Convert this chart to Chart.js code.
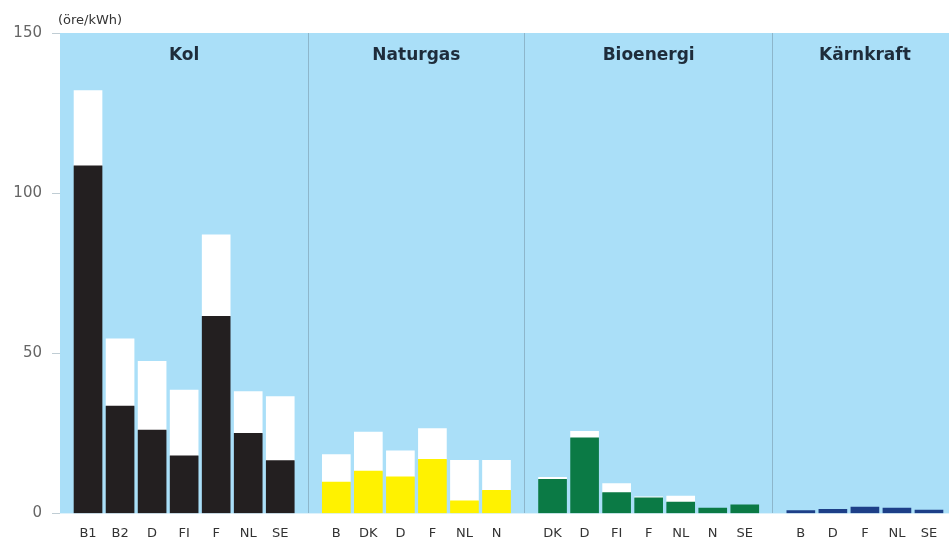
<!DOCTYPE html>
<html><head><meta charset="utf-8">
<script src="https://cdn.jsdelivr.net/npm/chart.js@4"></script>
<style>html,body{margin:0;padding:0;background:#fff}#wrap{width:949px;height:542px;position:relative}</style>
</head><body><div id="wrap"><canvas id="c"></canvas></div>
<script>
// ---- data ----
const groupNames = ['Kol', 'Naturgas', 'Bioenergi', 'Kärnkraft'];
const kolLabels = ['B1', 'B2', 'D', 'FI', 'F', 'NL', 'SE'];
const kolBase   = [108.5, 33.5, 26, 18, 61.5, 25, 16.5];
const kolTotal  = [132, 54.5, 47.5, 38.5, 87, 38, 36.5];
const gasLabels = ['B', 'DK', 'D', 'F', 'NL', 'N'];
const gasBase   = [9.8, 13.2, 11.4, 16.9, 3.9, 7.2];
const gasTotal  = [18.4, 25.4, 19.5, 26.5, 16.6, 16.6];
const bioLabels = ['DK', 'D', 'FI', 'F', 'NL', 'N', 'SE'];
const bioBase   = [10.6, 23.6, 6.5, 4.9, 3.5, 1.7, 2.7];
const bioTotal  = [11.3, 25.6, 9.3, 5.2, 5.4, 1.7, 2.7];
const karnLabels = ['B', 'D', 'F', 'NL', 'SE'];
const karnBase   = [0.9, 1.3, 2.0, 1.7, 1.0];
const karnTotal  = [0.9, 1.3, 2.0, 1.7, 1.0];
const yTicks = [0, 50, 100, 150];
const unitLabel = '(öre/kWh)';

// ---- styles ----
const groupColors = ['#231f20', '#fff200', '#0b7a45', '#1d3f88'];
const groups = [
  {labels: kolLabels, base: kolBase, total: kolTotal},
  {labels: gasLabels, base: gasBase, total: gasTotal},
  {labels: bioLabels, base: bioBase, total: bioTotal},
  {labels: karnLabels, base: karnBase, total: karnTotal}
];

// build category table (blank spacer categories give the gaps)
const labels = [], baseData = [], extraData = [], baseColors = [], dividerIdx = [], groupSpans = [];
function pad(n) { for (let i = 0; i < n; i++) { labels.push(''); baseData.push(null); extraData.push(null); baseColors.push('rgba(0,0,0,0)'); } }
pad(3);
groups.forEach((g, gi) => {
  if (gi > 0) { pad(3); dividerIdx.push(labels.length); pad(3); }
  const first = labels.length;
  g.labels.forEach((lab, i) => {
    if (i > 0) pad(3);
    labels.push(lab);
    baseData.push(g.base[i]);
    const ex = +(g.total[i] - g.base[i]).toFixed(2);
    extraData.push(ex > 0 ? ex : null);
    baseColors.push(groupColors[gi]);
  });
  groupSpans.push([first, labels.length - 1]);
});
pad(2);

Chart.defaults.font.family = "'DejaVu Sans', sans-serif";

const bgPlugin = {
  id: 'bg',
  beforeDraw(chart) {
    const {ctx, chartArea: a} = chart;
    ctx.save();
    ctx.fillStyle = '#aadff8';
    ctx.fillRect(a.left, a.top, a.right - a.left, a.bottom - a.top);
    ctx.restore();
  }
};
const textPlugin = {
  id: 'texts',
  afterDraw(chart) {
    const {ctx, chartArea: a} = chart;
    const xs = chart.scales.x;
    ctx.save();
    ctx.fillStyle = '#333';
    ctx.font = "13px 'DejaVu Sans'";
    ctx.textAlign = 'left';
    ctx.textBaseline = 'middle';
    ctx.fillText(unitLabel, a.left - 2, a.top - 12);
    ctx.fillStyle = '#1e2c3b';
    ctx.font = "bold 17px 'DejaVu Sans'";
    ctx.textAlign = 'center';
    groupSpans.forEach((s, i) => {
      const cx = (xs.getPixelForValue(s[0]) + xs.getPixelForValue(s[1])) / 2;
      ctx.fillText(groupNames[i], cx, a.top + 23);
    });
    ctx.restore();
  }
};

new Chart(document.getElementById('c'), {
  type: 'bar',
  data: {
    labels: labels,
    datasets: [
      {data: baseData, backgroundColor: baseColors, stack: 's', barThickness: 28, borderWidth: 0},
      {data: extraData, backgroundColor: '#ffffff', stack: 's', barThickness: 28, borderWidth: 0}
    ]
  },
  options: {
    responsive: true,
    maintainAspectRatio: false,
    animation: false,
    layout: {padding: {top: 33, right: 0, bottom: 1, left: 0}},
    plugins: {legend: {display: false}, tooltip: {enabled: false}},
    scales: {
      x: {
        stacked: true,
        offset: true,
        grid: {
          offset: true,
          drawTicks: true,
          tickLength: 12,
          tickColor: 'rgba(0,0,0,0)',
          lineWidth: 1,
          color: (c) => dividerIdx.includes(c.index) ? '#8db6cb' : 'rgba(0,0,0,0)'
        },
        border: {display: false},
        ticks: {autoSkip: false, maxRotation: 0, minRotation: 0, padding: 0, color: '#333', font: {size: 13}}
      },
      y: {
        stacked: true,
        min: 0,
        max: 150,
        afterBuildTicks: (s) => { s.ticks = yTicks.map(v => ({value: v})); },
        afterFit: (s) => { s.width = 60; },
        grid: {drawOnChartArea: false, drawTicks: true, tickLength: 8, color: '#c0cdd4'},
        border: {display: false},
        ticks: {padding: 10, color: '#666', font: {size: 15}}
      }
    }
  },
  plugins: [bgPlugin, textPlugin]
});
</script>
</body></html>
